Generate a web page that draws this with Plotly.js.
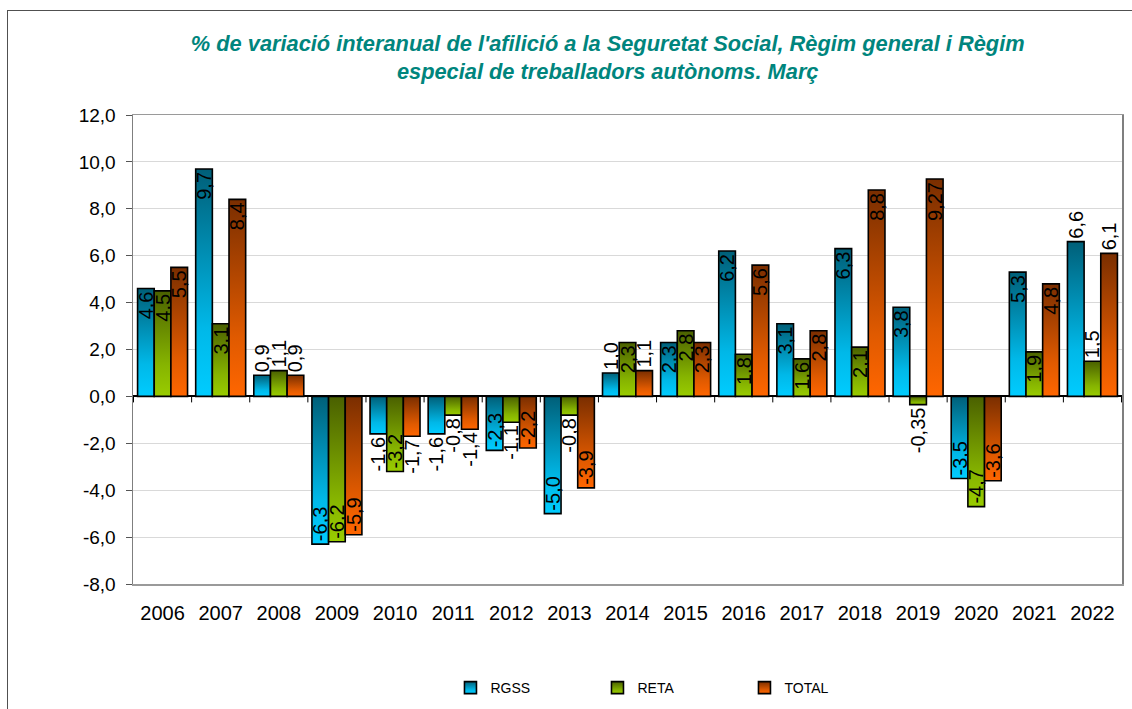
<!DOCTYPE html>
<html>
<head>
<meta charset="utf-8">
<script src="https://cdn.plot.ly/plotly-3.0.1.min.js"></script>
<style>
  html, body { margin: 0; padding: 0; background: #fff; overflow: hidden; }
  #wrap { position: relative; width: 1132px; height: 709px; }
  #chart { position: absolute; left: 0; top: 0; width: 1132px; height: 709px; }
  #frame { position: absolute; left: 7px; top: 10px; width: 1140px; height: 720px;
           border: 1.5px solid #505050; pointer-events: none; box-sizing: border-box; }
</style>
</head>
<body>
<div id="wrap">
  <div id="chart"></div>
  <div id="frame"></div>
</div>
<script>
// ---- Data ----
const years = ['2006','2007','2008','2009','2010','2011','2012','2013','2014','2015','2016','2017','2018','2019','2020','2021','2022'];
const rgss  = [4.6, 9.7, 0.9, -6.3, -1.6, -1.6, -2.3, -5.0, 1.0, 2.3, 6.2, 3.1, 6.3, 3.8, -3.5, 5.3, 6.6];
const reta  = [4.5, 3.1, 1.1, -6.2, -3.2, -0.8, -1.1, -0.8, 2.3, 2.8, 1.8, 1.6, 2.1, -0.35, -4.7, 1.9, 1.5];
const total = [5.5, 8.4, 0.9, -5.9, -1.7, -1.4, -2.2, -3.9, 1.1, 2.3, 5.6, 2.8, 8.8, 9.27, -3.6, 4.8, 6.1];
const seriesNames = ['RGSS', 'RETA', 'TOTAL'];
const yTickVals = [-8, -6, -4, -2, 0, 2, 4, 6, 8, 10, 12];
const yTickText = ['-8,0', '-6,0', '-4,0', '-2,0', '0,0', '2,0', '4,0', '6,0', '8,0', '10,0', '12,0'];

// ---- Label placement (style) ----
const I = 'inside', O = 'outside';
const posRGSS  = [I,I,O,I,O,O,I,I,O,I,I,I,I,I,I,I,O];
const posRETA  = [I,I,O,I,I,O,O,O,I,I,I,I,I,O,I,I,O];
const posTOTAL = [I,I,O,I,O,O,I,I,O,I,I,I,I,I,I,I,O];

function fmt(v) {
  const d = (Math.abs(Math.round(v * 10) - v * 10) < 1e-9) ? 1 : 2;
  return v.toFixed(d).replace('.', ',');
}

const baseColors = ['#0aa3cc', '#78a400', '#cf5600'];
const grads = [
  ['#005f78', '#00b8e8', '#00ccff'],
  ['#4a6000', '#86b400', '#99cc00'],
  ['#7a2e00', '#e05a00', '#ff6600']
];

const FAM = 'Liberation Sans, Arial, sans-serif';
const labelFont = { family: FAM, size: 20, color: '#000' };

function mk(name, vals, pos, color) {
  return {
    type: 'bar', name: name, x: years, y: vals,
    text: vals.map(fmt), textposition: pos, textangle: -90,
    insidetextanchor: 'end', constraintext: 'none', cliponaxis: false,
    textfont: labelFont, insidetextfont: labelFont, outsidetextfont: labelFont,
    marker: { color: color, line: { color: '#000', width: 1.6 } },
    hoverinfo: 'x+y'
  };
}

const data = [
  mk(seriesNames[0], rgss, posRGSS, baseColors[0]),
  mk(seriesNames[1], reta, posRETA, baseColors[1]),
  mk(seriesNames[2], total, posTOTAL, baseColors[2])
];

// category boundary ticks on the zero line
const tickShapes = [];
for (let i = 0; i <= years.length; i++) {
  tickShapes.push({
    type: 'line', xref: 'x', yref: 'y', x0: i - 0.5, x1: i - 0.5,
    ysizemode: 'pixel', yanchor: 0, y0: 0, y1: -6,
    line: { color: '#000', width: 1 }
  });
}

const layout = {
  width: 1132, height: 709,
  margin: { l: 133, r: 10, t: 115, b: 125 },
  paper_bgcolor: '#fff', plot_bgcolor: '#fff',
  font: { family: FAM, size: 19, color: '#000' },
  title: {
    text: "% de variació interanual de l'afilició a la Seguretat Social, Règim general i Règim<br>especial de treballadors autònoms. Març",
    font: { family: FAM, size: 21.8, color: '#00857d', weight: 'bold', style: 'italic' },
    xref: 'paper', x: 0.48, xanchor: 'center',
    yref: 'container', y: 0.928, yanchor: 'top'
  },
  barmode: 'group', bargap: 0.14, bargroupgap: 0,
  showlegend: true,
  legend: {
    orientation: 'h', x: 0.321, xanchor: 'left',
    yref: 'container', y: 0.0522, yanchor: 'top',
    entrywidth: 102, entrywidthmode: 'pixels',
    font: { family: FAM, size: 14, color: '#000' },
    traceorder: 'normal'
  },
  xaxis: {
    type: 'category', showgrid: false, zeroline: false, automargin: false,
    showline: true, linecolor: '#9a9a9a', linewidth: 1.5, mirror: true,
    ticks: '', ticklabelstandoff: 10,
    tickfont: { family: FAM, size: 20, color: '#000' }
  },
  yaxis: {
    range: [-8, 12], tickmode: 'array', tickvals: yTickVals, ticktext: yTickText, automargin: false,
    showgrid: true, gridcolor: '#d9d9d9', gridwidth: 1,
    zeroline: true, zerolinecolor: '#000', zerolinewidth: 2,
    showline: true, linecolor: '#7f7f7f', linewidth: 1.5, mirror: true,
    ticks: 'outside', ticklen: 6, tickcolor: '#555', tickwidth: 1,
    ticklabelstandoff: 6,
    tickfont: { family: FAM, size: 19, color: '#000' }
  },
  shapes: tickShapes
};

function applyGradients(gd) {
  const svg = gd.querySelector('svg.main-svg');
  let defs = svg.querySelector('defs');
  if (!defs) { defs = document.createElementNS('http://www.w3.org/2000/svg', 'defs'); svg.prepend(defs); }
  grads.forEach((g, k) => {
    const id = 'barGrad' + k;
    if (!svg.querySelector('#' + id)) {
      const lg = document.createElementNS('http://www.w3.org/2000/svg', 'linearGradient');
      lg.setAttribute('id', id);
      lg.setAttribute('x1', '0'); lg.setAttribute('y1', '0');
      lg.setAttribute('x2', '0'); lg.setAttribute('y2', '1');
      [[0, g[0]], [0.7, g[1]], [1, g[2]]].forEach(([o, c]) => {
        const s = document.createElementNS('http://www.w3.org/2000/svg', 'stop');
        s.setAttribute('offset', o); s.setAttribute('stop-color', c);
        lg.appendChild(s);
      });
      defs.appendChild(lg);
    }
  });
  const traces = gd.querySelectorAll('.barlayer .trace');
  traces.forEach((t, k) => {
    t.querySelectorAll('.point path').forEach(p => { p.style.fill = 'url(#barGrad' + k + ')'; });
  });
  const legendTraces = gd.querySelectorAll('.legend .traces');
  legendTraces.forEach((t, k) => {
    t.querySelectorAll('.legendpoints path').forEach(p => { p.style.fill = 'url(#barGrad' + k + ')'; });
  });
}

Plotly.newPlot('chart', data, layout, { displayModeBar: false, staticPlot: true }).then(gd => applyGradients(gd));
</script>
</body>
</html>
